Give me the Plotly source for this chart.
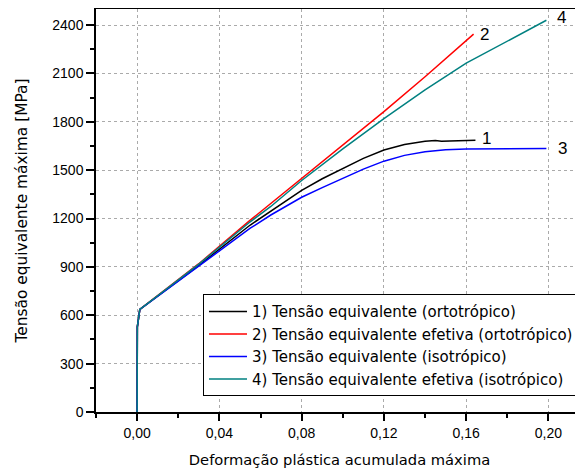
import plotly.graph_objects as go

# Common elastic start (shared by all curves)
x_start = [0.0, 0.0001, 0.0013]
y_start = [0, 528, 636]

# 1) Tensão equivalente (ortotrópico)
x1 = x_start + [0.03, 0.055, 0.065, 0.08, 0.09, 0.10, 0.11, 0.12, 0.13, 0.14, 0.145, 0.148, 0.155, 0.1645]
y1 = y_start + [910, 1160, 1245, 1375, 1447, 1512, 1573, 1625, 1660, 1680, 1684, 1679, 1682, 1686]

# 2) Tensão equivalente efetiva (ortotrópico)
x2 = x_start + [0.03, 0.055, 0.065, 0.08, 0.10, 0.12, 0.14, 0.1636]
y2 = y_start + [920, 1190, 1293, 1452, 1655, 1863, 2080, 2344]

# 3) Tensão equivalente (isotrópico)
x3 = x_start + [0.03, 0.045, 0.055, 0.065, 0.08, 0.09, 0.10, 0.11, 0.12, 0.13, 0.14, 0.15, 0.16, 0.18, 0.199]
y3 = y_start + [905, 1045, 1140, 1222, 1332, 1392, 1450, 1507, 1556, 1592, 1615, 1627, 1631, 1633, 1634]

# 4) Tensão equivalente efetiva (isotrópico)
x4 = x_start + [0.03, 0.055, 0.065, 0.08, 0.10, 0.12, 0.14, 0.16, 0.18, 0.199]
y4 = y_start + [917, 1180, 1275, 1436, 1632, 1820, 1998, 2164, 2300, 2430]

names = [
    "1) Tensão equivalente (ortotrópico)",
    "2) Tensão equivalente efetiva (ortotrópico)",
    "3) Tensão equivalente (isotrópico)",
    "4) Tensão equivalente efetiva (isotrópico)",
]
labels = ["1", "2", "3", "4"]
colors = ["#000000", "#FF0000", "#0000FF", "#008080"]
xs = [x1, x2, x3, x4]
ys = [y1, y2, y3, y4]
label_xshift = [5, 4, 10, 9]
label_yshift = [2, 0, 0, 3]

fig = go.Figure()
for i in range(4):
    fig.add_trace(go.Scatter(
        x=xs[i], y=ys[i], mode="lines", name=names[i],
        line=dict(color=colors[i], width=1.5), legendgroup=str(i),
    ))
    fig.add_annotation(
        x=xs[i][-1], y=ys[i][-1], text=labels[i], showarrow=False,
        xanchor="left", yanchor="middle",
        xshift=label_xshift[i], yshift=label_yshift[i],
        font=dict(family="Liberation Sans, Arial", size=17, color="#000000"),
    )

axis_font = dict(family="Liberation Sans, Arial", size=14, color="#000000")
fig.update_layout(
    width=575, height=460,
    margin=dict(l=88, r=0, t=1, b=56),
    paper_bgcolor="white", plot_bgcolor="white",
    separators=",.",
    showlegend=True,
    legend=dict(
        x=0.2197, y=0.292, xanchor="left", yanchor="top",
        bgcolor="white", bordercolor="#000000", borderwidth=1,
        font=dict(family="DejaVu Sans", size=15, color="#000000"),
        tracegroupgap=0, itemwidth=38,
    ),
    xaxis=dict(
        range=[-0.02, 0.2168], tick0=0, dtick=0.04, tickformat=".2f",
        ticks="outside", ticklen=7, tickwidth=1.5, tickcolor="#000000",
        showline=True, linecolor="#000000", linewidth=1.5, mirror=True,
        showgrid=True, gridcolor="#AAAAAA", griddash="dot", gridwidth=1,
        zeroline=False, tickfont=axis_font, automargin=False,
        minor=dict(dtick=0.02, tick0=0, ticks="outside", ticklen=4, tickwidth=1.5,
                   tickcolor="#000000", showgrid=False),
        title=dict(text="Deformação plástica acumulada máxima", standoff=15,
                   font=dict(family="DejaVu Sans", size=14.7, color="#000000")),
    ),
    yaxis=dict(
        range=[0, 2500], tick0=0, dtick=300,
        ticks="outside", ticklen=8, tickwidth=1.5, tickcolor="#000000",
        showline=True, linecolor="#000000", linewidth=1.5, mirror=False,
        showgrid=True, gridcolor="#AAAAAA", griddash="dot", gridwidth=1,
        zeroline=False, tickfont=axis_font, automargin=False,
        minor=dict(dtick=150, tick0=0, ticks="outside", ticklen=4, tickwidth=1.5,
                   tickcolor="#000000", showgrid=False),
        title=dict(text="Tensão equivalente máxima [MPa]", standoff=21,
                   font=dict(family="DejaVu Sans", size=15.4, color="#000000")),
    ),
)

fig.write_html("out.html")
